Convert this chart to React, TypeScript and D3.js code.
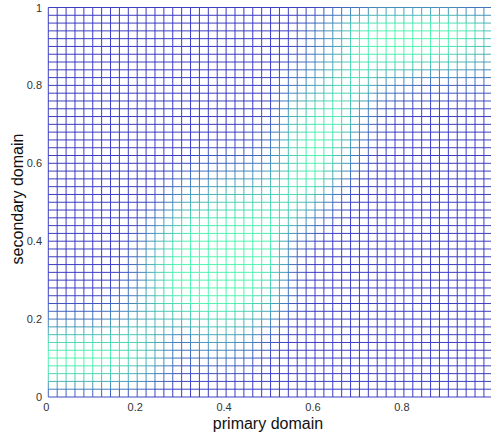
import React from "react";
import * as d3 from "d3";

const SAMPLE_X = [0, 0.05, 0.1, 0.15, 0.2, 0.25, 0.3, 0.35, 0.4, 0.45, 0.5, 0.55, 0.6, 0.65, 0.7, 0.75, 0.8, 0.85, 0.9, 0.95, 1];
// rows listed from secondary = 1.0 (top) down to 0.0 (bottom)
const SAMPLE_Y = [1, 0.95, 0.9, 0.85, 0.8, 0.75, 0.7, 0.65, 0.6, 0.55, 0.5, 0.45, 0.4, 0.35, 0.3, 0.25, 0.2, 0.15, 0.1, 0.05, 0];
const VALUES: number[][] = [
  [0, 0, 0, 0, 0, 0, 0, 0, 0, 0, 0, 0, 1, 2, 3, 4, 4, 4, 4, 3, 3],
  [0, 0, 0, 0, 0, 0, 0, 0, 0, 0, 0, 1, 3, 5, 8, 9, 9, 9, 9, 8, 6],
  [0, 0, 0, 0, 0, 0, 0, 0, 0, 0, 0, 1, 3, 5, 8, 9, 9, 9, 8, 7, 6],
  [0, 0, 0, 0, 0, 0, 0, 0, 0, 0, 0, 2, 4, 6, 8, 7, 7, 6, 6, 5, 4],
  [0, 0, 0, 0, 0, 0, 0, 0, 0, 0, 1, 3, 5, 7, 7, 4, 3, 2, 2, 2, 2],
  [0, 0, 0, 0, 0, 0, 0, 0, 0, 0, 1, 5, 7, 8, 5, 2, 1, 1, 1, 1, 1],
  [0, 0, 0, 0, 0, 0, 0, 0, 0, 1, 2, 6, 8, 8, 4, 1, 0, 0, 0, 0, 0],
  [0, 0, 0, 0, 0, 0, 0, 1, 1, 1, 3, 7, 9, 7, 3, 1, 0, 0, 0, 0, 0],
  [0, 0, 0, 0, 0, 0, 1, 2, 2, 3, 4, 7, 9, 6, 2, 0, 0, 0, 0, 0, 0],
  [0, 0, 0, 0, 0, 1, 3, 4, 5, 5, 6, 8, 8, 4, 1, 0, 0, 0, 0, 0, 0],
  [0, 0, 0, 0, 0, 2, 5, 6, 7, 7, 7, 7, 5, 2, 0, 0, 0, 0, 0, 0, 0],
  [0, 0, 0, 0, 1, 4, 7, 8, 8, 8, 8, 6, 3, 1, 0, 0, 0, 0, 0, 0, 0],
  [0, 0, 0, 0, 2, 6, 8, 9, 9, 9, 8, 3, 1, 0, 0, 0, 0, 0, 0, 0, 0],
  [0, 0, 0, 0, 3, 7, 9, 9, 9, 9, 8, 3, 0, 0, 0, 0, 0, 0, 0, 0, 0],
  [0, 0, 0, 1, 3, 7, 9, 9, 9, 9, 7, 2, 0, 0, 0, 0, 0, 0, 0, 0, 0],
  [1, 1, 1, 2, 4, 7, 8, 9, 9, 8, 6, 2, 0, 0, 0, 0, 0, 0, 0, 0, 0],
  [3, 3, 3, 4, 5, 6, 6, 7, 7, 6, 4, 1, 0, 0, 0, 0, 0, 0, 0, 0, 0],
  [7, 7, 7, 7, 7, 5, 3, 5, 5, 4, 2, 0, 0, 0, 0, 0, 0, 0, 0, 0, 0],
  [9, 9, 9, 8, 7, 5, 2, 3, 3, 2, 1, 0, 0, 0, 0, 0, 0, 0, 0, 0, 0],
  [7, 7, 7, 6, 5, 3, 1, 1, 1, 1, 0, 0, 0, 0, 0, 0, 0, 0, 0, 0, 0],
  [1, 1, 1, 1, 1, 0, 0, 0, 0, 0, 0, 0, 0, 0, 0, 0, 0, 0, 0, 0, 0],
];

// Mesh line positions (grid of the surface)
const MESH_STEP = 0.02;
const X_TICKS = [0, 0.2, 0.4, 0.6, 0.8];
const Y_TICKS = [0, 0.2, 0.4, 0.6, 0.8, 1];
const X_LABEL = "primary domain";
const Y_LABEL = "secondary domain";

const W = 491;
const H = 435;

function sample(x: number, y: number): number {
  const fx = x / 0.05;
  const fy = (1 - y) / 0.05;
  const c0 = Math.max(0, Math.min(SAMPLE_X.length - 2, Math.floor(fx)));
  const r0 = Math.max(0, Math.min(SAMPLE_Y.length - 2, Math.floor(fy)));
  const tx = fx - c0;
  const ty = fy - r0;
  const a = VALUES[r0][c0];
  const b = VALUES[r0][c0 + 1];
  const c = VALUES[r0 + 1][c0];
  const d = VALUES[r0 + 1][c0 + 1];
  return (a * (1 - tx) + b * tx) * (1 - ty) + (c * (1 - tx) + d * tx) * ty;
}

export default function App() {
  const x = d3.scaleLinear().domain([0, 1]).range([48.3, 492.8]);
  const y = d3.scaleLinear().domain([0, 1]).range([397, 7.5]);
  const color = d3
    .scaleLinear<string>()
    .domain([0.5, 8.5])
    .range(["#2828bc", "#40f2aa"])
    .interpolate(d3.interpolateRgb)
    .clamp(true);

  const grid = d3.range(0, 51).map((i) => i * MESH_STEP);
  const segs: React.ReactNode[] = [];
  grid.forEach((gy, j) => {
    for (let i = 0; i < grid.length - 1; i++) {
      const x0 = grid[i];
      const x1 = grid[i + 1];
      const v = sample((x0 + x1) / 2, gy);
      segs.push(
        <line key={`h${j}-${i}`} x1={x(x0)} x2={x(x1)} y1={y(gy)} y2={y(gy)} stroke={color(v)} strokeWidth={0.9} />
      );
    }
  });
  grid.forEach((gx, i) => {
    for (let j = 0; j < grid.length - 1; j++) {
      const y0 = grid[j];
      const y1 = grid[j + 1];
      const v = sample(gx, (y0 + y1) / 2);
      segs.push(
        <line key={`v${i}-${j}`} x1={x(gx)} x2={x(gx)} y1={y(y0)} y2={y(y1)} stroke={color(v)} strokeWidth={0.9} />
      );
    }
  });

  const font = "'Liberation Sans', Arial, sans-serif";
  return (
    <svg width={W} height={H} style={{ position: "absolute", left: 0, top: 0, background: "#fff" }}>
      <rect x={0} y={0} width={W} height={H} fill="#fff" />
      <g>{segs}</g>
      <g fontFamily={font} fontSize={11} fill="#333">
        {X_TICKS.map((t) => (
          <text key={`xt${t}`} x={x(t) - 2} y={411} textAnchor="middle">
            {d3.format("~g")(t)}
          </text>
        ))}
        {Y_TICKS.map((t) => (
          <text key={`yt${t}`} x={42} y={y(t) + 4} textAnchor="end">
            {d3.format("~g")(t)}
          </text>
        ))}
      </g>
      <text x={268} y={429} textAnchor="middle" fontFamily={font} fontSize={16} fill="#111">
        {X_LABEL}
      </text>
      <text
        transform={`translate(23,199) rotate(-90)`}
        textAnchor="middle"
        fontFamily={font}
        fontSize={16}
        fill="#111"
      >
        {Y_LABEL}
      </text>
    </svg>
  );
}
